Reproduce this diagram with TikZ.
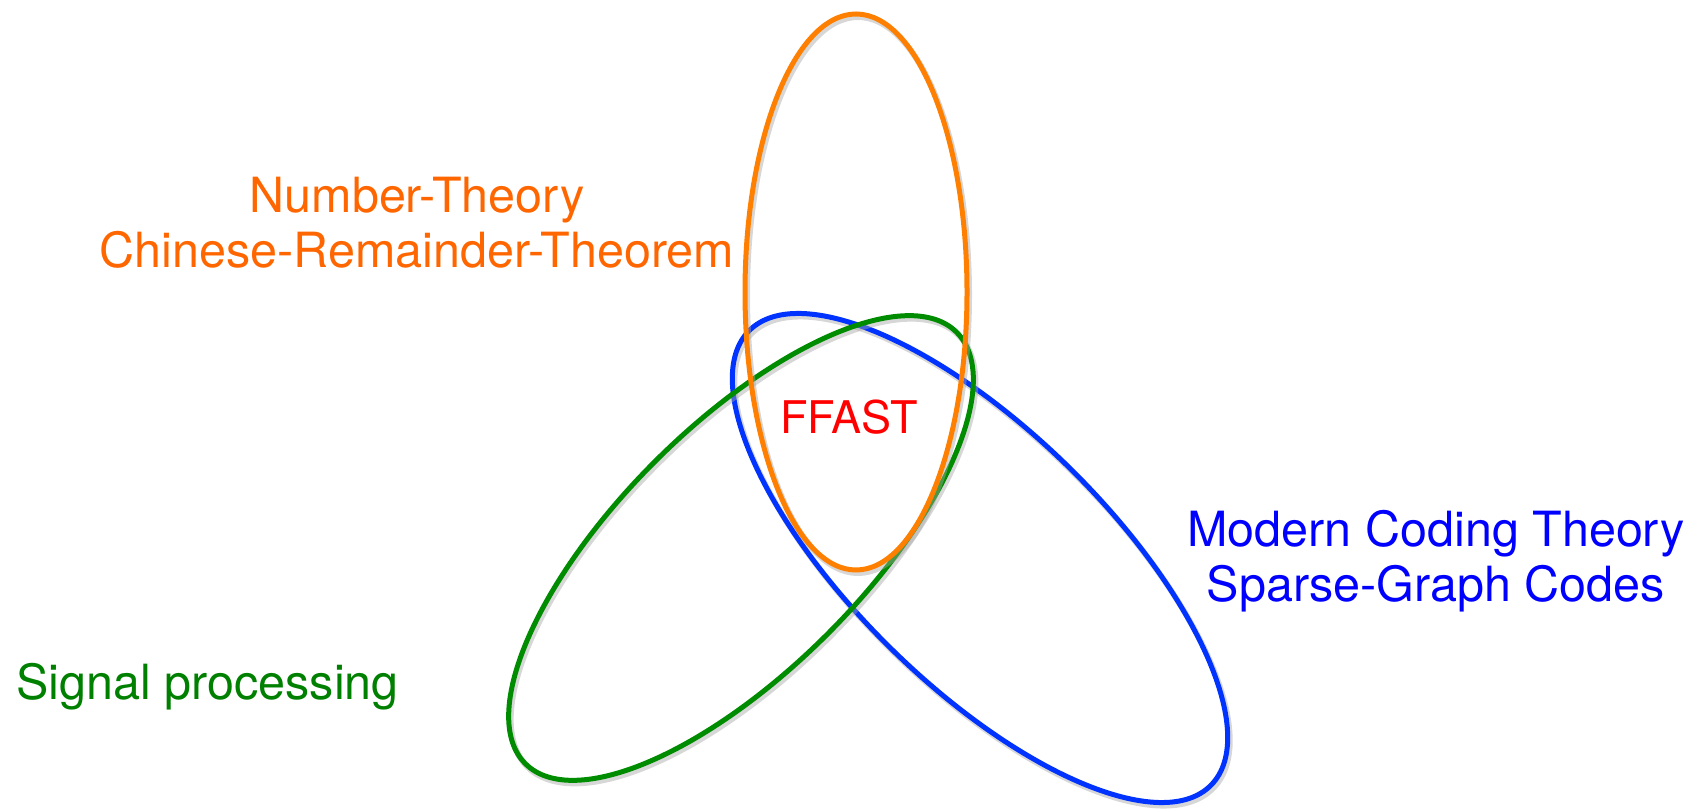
\documentclass[tikz,border=0pt]{standalone}
\usepackage{fontspec}
\setmainfont{TeX Gyre Heros}

\definecolor{ntorange}{RGB}{255,128,0}
\definecolor{ntorangetext}{RGB}{255,102,0}
\definecolor{mctblue}{RGB}{0,51,255}
\definecolor{mctbluetext}{RGB}{0,0,255}
\definecolor{spgreen}{RGB}{0,140,0}
\definecolor{spgreentext}{RGB}{0,128,0}
\definecolor{ffastred}{RGB}{255,0,0}

\begin{document}
\begin{tikzpicture}[x=1pt, y=1pt,
        set/.style={line width=5pt},
        setshadow/.style={draw=black!35, line width=6pt, opacity=0.45, shift={(2,-3)}},
        lbl/.style={inner sep=0pt, align=center, font=\fontsize{48.5}{55}\selectfont}]
    \useasboundingbox (0,0) rectangle (1704,811);
    % Sets (blue below green below orange):
    \draw[setshadow] (980,253) ellipse [x radius=324, y radius=127, rotate=-44.5];
    \draw[set, draw=mctblue] (980,253) ellipse [x radius=324, y radius=127, rotate=-44.5];
    \draw[setshadow] (741,263) ellipse [x radius=305, y radius=122, rotate=45];
    \draw[set, draw=spgreen] (741,263) ellipse [x radius=305, y radius=122, rotate=45];
    \draw[setshadow] (856,519) ellipse [x radius=111, y radius=278];
    \draw[set, draw=ntorange] (856,519) ellipse [x radius=111, y radius=278];
    % Labels:
    \node[lbl, text=ntorangetext] (numtheory) at (417,588) {Number-Theory\\Chinese-Remainder-Theorem};
    \node[lbl, text=mctbluetext] (coding) at (1436,250) {Modern Coding Theory\\Sparse-Graph Codes};
    \node[lbl, text=spgreentext, anchor=base west] (sigproc) at (16,111) {Signal processing};
    \node[lbl, text=ffastred, anchor=base, font=\fontsize{45}{50}\selectfont] (ffast) at (849,377) {FFAST};
\end{tikzpicture}
\end{document}
